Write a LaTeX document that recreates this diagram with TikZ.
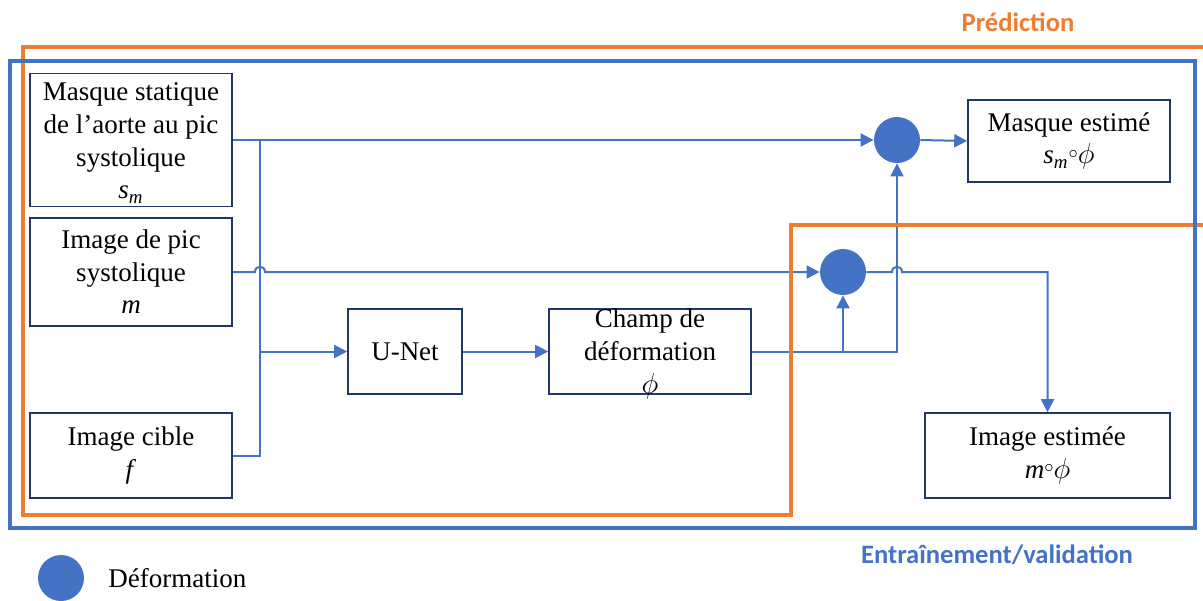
\documentclass[tikz,border=0pt]{standalone}
\usepackage{fontspec}
\setmainfont{Liberation Serif}
\newfontfamily\calib{Carlito}
\usetikzlibrary{arrows.meta,calc}
\definecolor{lblue}{HTML}{4472C4}
\definecolor{orng}{HTML}{ED7D31}
\definecolor{navy}{HTML}{1F3864}
\newcommand{\cmp}{\raisebox{0.45ex}{$\scriptstyle\circ$}}
\begin{document}
\begin{tikzpicture}[x=0.5pt,y=-0.5pt,
  box/.style={draw=navy, line width=0.8pt, fill=white, align=center, font=\fontsize{13.5}{16.3}\selectfont, inner sep=0pt},
  txt/.style={align=center, font=\fontsize{13.5}{16.3}\selectfont, inner sep=0pt},
  conn/.style={draw=lblue, line width=1pt},
  arr/.style={conn, -{Triangle[length=6.5pt,width=6.5pt]}},
  defo/.style={circle, fill=lblue, minimum size=23pt, inner sep=0pt},
  lab/.style={font=\calib\bfseries\fontsize{13.3}{15}\selectfont},
]
\useasboundingbox (0,0) rectangle (1203,600);
\clip (0,0) rectangle (1203,600);

% boxes
\node[box, minimum width=101pt, minimum height=66.5pt] (ms) at (131,140) {};
\node[txt] (mst) at (131,143)
  {Masque statique\\de l’aorte au pic\\systolique\\\textit{s}\textsubscript{\textit{m}}};
\node[box, minimum width=101pt, minimum height=54pt] (ip) at (131,272)
  {Image de pic\\systolique\\\textit{m}};
\node[box, minimum width=101pt, minimum height=42.5pt] (ic) at (131,455.5)
  {Image cible\\\textit{f}};
\node[box, minimum width=57pt, minimum height=42.5pt] (un) at (405,351.5) {U-Net};
\node[box, minimum width=101pt, minimum height=42.5pt] (ch) at (650,351.5) {};
\node[txt] (cht) at (650,354) {Champ de\\déformation\\$\phi$};
\node[box, minimum width=101pt, minimum height=41pt] (me) at (1069,141)
  {Masque estimé\\\textit{s}\textsubscript{\textit{m}}\cmp$\phi$};
\node[box, minimum width=122.5pt, minimum height=42.5pt] (ie) at (1047.5,455.5)
  {Image estimée\\\textit{m}\cmp$\phi$};

% deformation circles
\node[defo] (c1) at (897,140) {};
\node[defo] (c2) at (843,272) {};

% helper coordinates
\coordinate (busx) at (260,0);
\coordinate (h1) at (busx |- ip.east);
\coordinate (h2) at (c2.east -| c1.south);

% connectors
\draw[arr] (ms.east) -- (c1.west);
\draw[conn] (ic.east) -- (ic.east -| busx) -- (ms.east -| busx);
\draw[arr] (busx |- un.west) -- (un.west);
\draw[arr] (ip.east) -- ($(h1)+(-5,0)$) .. controls ($(h1)+(-5,-7)$) and ($(h1)+(5,-7)$) .. ($(h1)+(5,0)$) -- (c2.west);
\draw[arr] (un.east) -- (ch.west);
\draw[arr] (ch.east) -- (ch.east -| c1.south) -- (c1.south);
\draw[arr] (ch.east -| c2.south) -- (c2.south);
\draw[arr] (c1.east) -- (me.west);
\draw[arr] (c2.east) -- ($(h2)+(-5,0)$) .. controls ($(h2)+(-5,-7)$) and ($(h2)+(5,-7)$) .. ($(h2)+(5,0)$) -- (c2.east -| ie.north) -- (ie.north);

% frames
\draw[orng, line width=2pt] (1215,47) -- (23,47) -- (23,515) -- (791,515) -- (791,225) -- (1215,225);
\draw[lblue, line width=2pt] (10,61) rectangle (1195,528);

% labels
\node[lab, text=orng] (pred) at (1018,22) {Prédiction};
\node[lab, text=lblue] (ev) at (997,555) {Entraînement/validation};

% legend
\node[defo] (lg) at (61,578) {};
\node[txt, anchor=west] (lgt) at (108,578) {Déformation};
\end{tikzpicture}
\end{document}
